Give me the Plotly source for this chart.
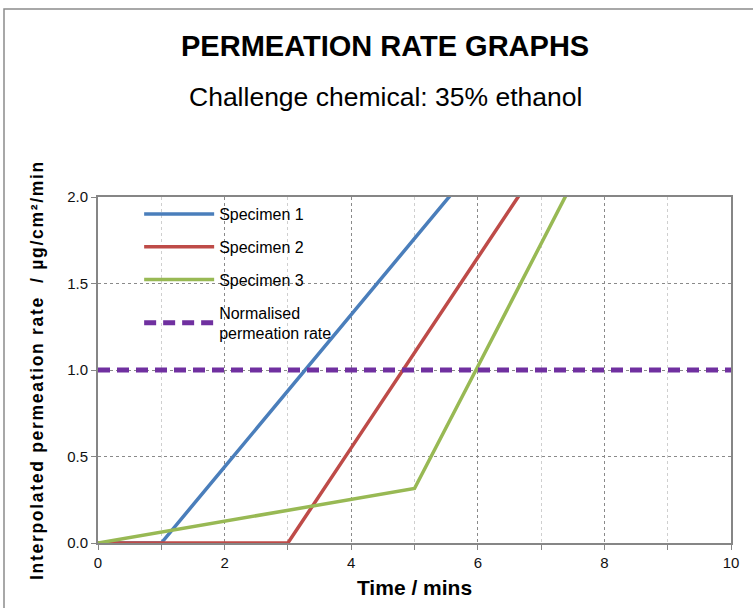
import plotly.graph_objects as go

# Data
time_mins = [0, 1, 2, 3, 4, 5, 6, 7, 8]
specimen1 = [0, 0, 0.44, 0.88, 1.32, 1.76, 2.20, None, None]
specimen2 = [0, 0, 0, 0, 0.55, 1.10, 1.65, 2.20, None]
specimen3 = [0, 0.063, 0.126, 0.189, 0.252, 0.315, 1.02, 1.73, 2.44]
norm_x = [0, 10]
norm_y = [1.0, 1.0]

series_names = ["Specimen 1", "Specimen 2", "Specimen 3", "Normalised<br>permeation rate"]
colors = ["#4A7EBB", "#BE4B48", "#98B954", "#7030A0"]

fig = go.Figure()
for name, ys, c in zip(series_names[:3], [specimen1, specimen2, specimen3], colors[:3]):
    xs = [x for x, y in zip(time_mins, ys) if y is not None]
    yv = [y for y in ys if y is not None]
    fig.add_trace(go.Scatter(x=xs, y=yv, mode="lines", name=name, legendgroup=name,
                             line=dict(color=c, width=3.5), cliponaxis=True))
fig.add_trace(go.Scatter(x=norm_x, y=norm_y, mode="lines", name=series_names[3], legendgroup="norm",
                         line=dict(color=colors[3], width=5, dash="12px,7px"), cliponaxis=False))

font_family = "Liberation Sans, Arial, sans-serif"
axis_gray = "#868686"

fig.update_layout(
    width=753, height=608,
    margin=dict(l=98, r=22, t=197, b=63),
    paper_bgcolor="white", plot_bgcolor="white",
    font=dict(family=font_family, color="#000", size=15),
    showlegend=True,
    legend=dict(x=0.065, y=1.0, xanchor="left", yanchor="top",
                bgcolor="rgba(0,0,0,0)", font=dict(size=16, color="#000"),
                itemwidth=70, tracegroupgap=9),
    xaxis=dict(range=[0, 10], dtick=2, tick0=0, showgrid=True,
               gridcolor="#8a8a8a", griddash="dot", gridwidth=1,
               showline=True, linecolor=axis_gray, linewidth=2, mirror=True,
               ticks="outside", ticklen=5, tickcolor=axis_gray,
               tickfont=dict(size=15, color="#111"),
               minor=dict(dtick=1, showgrid=True, gridcolor="#cfcfcf", griddash="dot",
                          ticks="outside", ticklen=5, tickcolor=axis_gray),
               zeroline=False,
               title=dict(text="<b>Time / mins</b>", font=dict(size=21, color="#000"), standoff=10)),
    yaxis=dict(range=[0, 2.0], dtick=0.5, tickformat=".1f", showgrid=True,
               gridcolor="#8a8a8a", griddash="dot", gridwidth=1,
               showline=True, linecolor=axis_gray, linewidth=2, mirror=True,
               ticks="outside", ticklen=5, tickcolor=axis_gray,
               tickfont=dict(size=15, color="#111"),
               zeroline=False,
               title=dict(text="<b>Interpolated permeation rate  / µg/cm²/min</b>",
                          font=dict(size=17.5, color="#000"), standoff=19)),
    annotations=[
        dict(text="<b>PERMEATION RATE GRAPHS</b>", xref="paper", yref="paper",
             x=(385 - 98) / 633, y=(545 - 45) / 348, xanchor="center", yanchor="middle",
             showarrow=False, font=dict(size=29, color="#000")),
        dict(text="Challenge chemical: 35% ethanol", xref="paper", yref="paper",
             x=(385 - 98) / 633, y=(545 - 96) / 348, xanchor="center", yanchor="middle",
             showarrow=False, font=dict(size=26.5, color="#000")),
    ],
    shapes=[
        dict(type="rect", xref="paper", yref="paper",
             x0=(4 - 98) / 633, x1=(770 - 98) / 633,
             y0=(545 - 630) / 348, y1=(545 - 8) / 348,
             line=dict(color="#8c8c8c", width=1.5), layer="below"),
    ],
)

post_js = ("document.querySelectorAll('.ytitle').forEach(function(e){"
           "e.style.letterSpacing='1.7px';});")
fig.write_html("out.html", post_script=post_js)
